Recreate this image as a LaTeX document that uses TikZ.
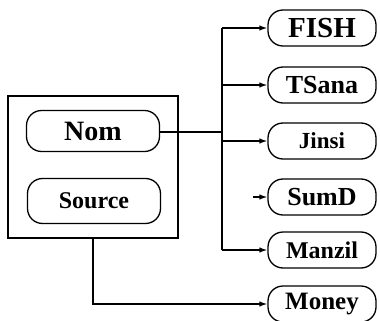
\documentclass[tikz,border=0pt]{standalone}
\usepackage{fontspec}
\setmainfont{Liberation Serif}
\usetikzlibrary{arrows.meta}

\newcommand{\fs}[1]{\bfseries\fontsize{#1}{#1}\selectfont}

\begin{document}
\begin{tikzpicture}[x=1pt,y=-1pt,
  line width=1.3pt,
  field/.style={draw, rounded corners=15pt, inner sep=0pt, font=\fs{26}},
  inner/.style={field, minimum width=133pt, minimum height=41pt},
  outer/.style={field, minimum width=108pt, minimum height=36pt},
  arr/.style={-{Latex[length=8pt,width=5.5pt]}}]
\useasboundingbox (0,0) rectangle (380,321);

% record box with its two fields
\node[draw, minimum width=170pt, minimum height=142pt, inner sep=0pt] (frame) at (93,167) {};
\node[inner, font=\fs{28}] (nom) at (93,131) {Nom};
\node[inner, minimum height=45pt, font=\fs{24}] (source) at (94,201) {Source};

% target fields
\node[outer, font=\fs{29}] (fish) at (322,28) {FISH};
\node[outer] (tsana) at (322,85) {TSana};
\node[outer, font=\fs{23}] (jinsi) at (322,141) {Jinsi};
\node[outer] (sumd) at (322,197) {SumD};
\node[outer, font=\fs{24}] (manzil) at (322,250) {Manzil};
\node[outer, font=\fs{25}] (money) at (322,304) {Money};

% branching connector from Nom
\coordinate (jn) at (222,132);
\coordinate (ttop) at (222,28);
\coordinate (tbot) at (222,250);
\coordinate (stub) at (253,197);
\draw (nom.east |- jn) -- (jn);
\draw (ttop) -- (tbot);
\draw[arr] (ttop) -- (fish.west);
\draw[arr] (tsana -| jn) -- (tsana.west);
\draw[arr] (jinsi -| jn) -- (jinsi.west);
\draw[arr] (stub) -- (sumd.west);
\draw[arr] (tbot) -- (manzil.west);

% connector from Source
\draw[arr] (frame.south -| 93,0) |- (money.west);
\end{tikzpicture}
\end{document}
